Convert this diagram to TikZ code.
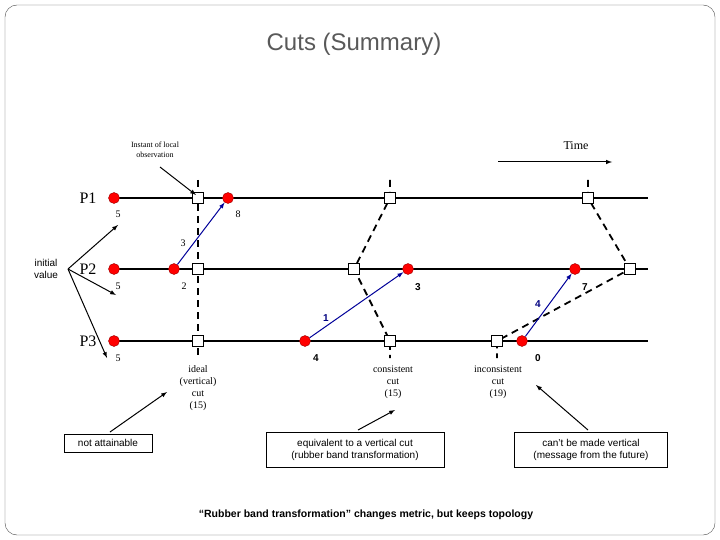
\documentclass[tikz,border=0pt]{standalone}
\usepackage{fontspec}
\setmainfont{Liberation Serif}
\setsansfont{Liberation Sans}
\begin{document}
\begin{tikzpicture}[x=1pt,y=-1pt,
 dot/.style={circle,fill=red,draw=red!60!black,inner sep=0pt,minimum size=11pt},
 sq/.style={rectangle,fill=white,draw=black,line width=1.2pt,inner sep=0pt,minimum size=11pt},
 tl/.style={line width=1.6pt},
 cut/.style={line width=1.8pt,dash pattern=on 7pt off 5pt},
 msg/.style={draw=blue!60!black,line width=1pt,-latex},
 num/.style={font=\fontsize{10}{10}\selectfont},
 bnum/.style={font=\sffamily\bfseries\fontsize{10}{10}\selectfont},
 captext/.style={font=\fontsize{10}{12}\selectfont,align=center},
 ptr/.style={line width=1pt,-latex},
 bx/.style={draw,font=\sffamily\fontsize{10}{12}\selectfont,align=center,inner sep=2pt}]
\useasboundingbox (0,0) rectangle (720,540);
\draw[rounded corners=12pt,black!70] (5,5) rectangle (715,535);
\node[font=\sffamily\fontsize{24}{24}\selectfont,text=black!65] (title) at (354,44) {Cuts (Summary)};
% timelines
\coordinate (l1) at (114,198); \coordinate (r1) at (648,198);
\coordinate (l2) at (114,269); \coordinate (r2) at (648,269);
\coordinate (l3) at (114,341); \coordinate (r3) at (648,341);
\draw[tl] (l1)--(r1); \draw[tl] (l2)--(r2); \draw[tl] (l3)--(r3);
% cut lines
\coordinate (a0) at (198,180); \coordinate (a1) at (198,358);
\draw[cut] (a0)--(a1);
\coordinate (b0) at (390,180); \coordinate (b1) at (390,198); \coordinate (b2) at (354,269); \coordinate (b3) at (390,341); \coordinate (b4) at (390,358);
\draw[cut] (b0)--(b1)--(b2)--(b3)--(b4);
\coordinate (c0) at (588,180); \coordinate (c1) at (588,198); \coordinate (c2) at (630,269); \coordinate (c3) at (497,341); \coordinate (c4) at (497,358);
\draw[cut] (c0)--(c1)--(c2)--(c3)--(c4);
% squares
\foreach \n/\p in {s11/{198,198},s12/{390,198},s13/{588,198},s21/{198,269},s22/{354,269},s23/{630,269},s31/{198,341},s32/{390,341},s33/{497,341}}
  \node[sq] (\n) at (\p) {};
% dots
\foreach \n/\p in {d11/{114,198},d12/{228,198},d21/{114,269},d22/{174,269},d23/{408,269},d24/{575,269},d31/{114,341},d32/{305,341},d33/{522,341}}
  \node[dot] (\n) at (\p) {};
% messages
\draw[msg] (d22)--(d12); \draw[msg] (d32)--(d23); \draw[msg] (d33)--(d24);
\node[num] (m1) at (183,243) {3};
\node[bnum,text=blue!50!black] (m2) at (326,318) {1};
\node[bnum,text=blue!50!black] (m3) at (538,304) {4};
% numbers
\node[num] (n1) at (118,214) {5}; \node[num] (n2) at (118,286) {5}; \node[num] (n3) at (118,358) {5};
\node[num] (n4) at (238,214) {8}; \node[num] (n5) at (184,286) {2};
\node[bnum] (n6) at (418,287) {3}; \node[bnum] (n7) at (585,287) {7};
\node[bnum] (n8) at (316,358) {4}; \node[bnum] (n9) at (538,358) {0};
% process labels
\node[font=\fontsize{16}{16}\selectfont] (P1) at (88,198) {P1};
\node[font=\fontsize{16}{16}\selectfont] (P2) at (88,269) {P2};
\node[font=\fontsize{16}{16}\selectfont] (P3) at (88,341) {P3};
\node[font=\sffamily\fontsize{10}{12}\selectfont,align=center] (iv) at (46,269) {initial\\value};
\coordinate (ivo) at (68,269);
\coordinate (iv1) at (118,225); \coordinate (iv2) at (116,295); \coordinate (iv3) at (107,358);
\draw[ptr] (ivo)--(iv1); \draw[ptr] (ivo)--(iv2); \draw[ptr] (ivo)--(iv3);
\node[font=\fontsize{8}{10}\selectfont,align=center] (inst) at (155,150) {Instant of local\\observation};
\coordinate (inst0) at (160,167); \coordinate (inst1) at (196,195);
\draw[ptr] (inst0)--(inst1);
\node[font=\fontsize{12}{12}\selectfont] (time) at (576,146) {Time};
\coordinate (t0) at (498,162); \coordinate (t1) at (612,162);
\draw[ptr] (t0)--(t1);
% captions
\node[captext,anchor=north] (cap1) at (198,362) {ideal\\(vertical)\\cut\\(15)};
\node[captext,anchor=north] (cap2) at (393,362) {consistent\\cut\\(15)};
\node[captext,anchor=north] (cap3) at (498,362) {inconsistent\\cut\\(19)};
% boxes
\node[bx,minimum width=88pt,minimum height=18pt] (b1x) at (108,443) {not attainable};
\node[bx,minimum width=178pt,minimum height=35pt] (b2x) at (355,450) {equivalent to a vertical cut\\(rubber band transformation)};
\node[bx,minimum width=153pt,minimum height=35pt] (b3x) at (591,450) {can't be made vertical\\(message from the future)};
\coordinate (p1a) at (110,432); \coordinate (p1b) at (167,392);
\coordinate (p2a) at (358,430); \coordinate (p2b) at (395,410);
\coordinate (p3a) at (588,430); \coordinate (p3b) at (536,385);
\draw[ptr] (p1a)--(p1b); \draw[ptr] (p2a)--(p2b); \draw[ptr] (p3a)--(p3b);
\node[font=\sffamily\bfseries\fontsize{10.5}{12}\selectfont] (foot) at (366,515) {“Rubber band transformation” changes metric, but keeps topology};
\end{tikzpicture}
\end{document}
